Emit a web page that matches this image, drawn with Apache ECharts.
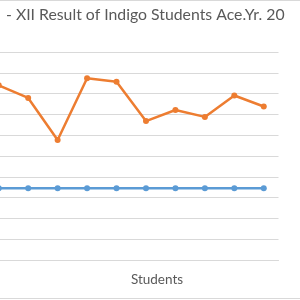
<!DOCTYPE html>
<html>
<head>
<meta charset="utf-8">
<script src="https://cdn.jsdelivr.net/npm/echarts@6/dist/echarts.min.js"></script>
<style>html,body{margin:0;padding:0;background:#fff;overflow:hidden}#wrap{position:relative;width:300px;height:300px;overflow:hidden}#c{position:absolute;left:-16px;top:0;width:316px;height:300px}</style>
</head>
<body>
<div id="wrap"><div id="c"></div></div>
<script>
var categories = ["1","2","3","4","5","6","7","8","9","10"];
var resultValues = [84.0, 77.9, 57.7, 87.4, 85.7, 66.8, 72.1, 68.8, 79.1, 73.8];
var passValues = [34.5, 34.5, 34.5, 34.5, 34.5, 34.5, 34.5, 34.5, 34.5, 34.5];
var titleText = "- XII Result of Indigo Students Ace.Yr. 20";
var axisName = "Students";

var chart = echarts.init(document.getElementById('c'), null, {renderer:'canvas'});
chart.setOption({
  animation: false,
  backgroundColor: '#ffffff',
  grid: {left: 0, right: 21.5, top: 52, bottom: 40, containLabel: false},
  xAxis: {
    type: 'category', data: categories, boundaryGap: true,
    axisLine: {lineStyle: {color: '#d9d9d9', width: 1}},
    axisTick: {show: false}, axisLabel: {show: false}
  },
  yAxis: {
    type: 'value', min: 0, max: 100, interval: 10,
    axisLine: {show: false}, axisTick: {show: false}, axisLabel: {show: false},
    splitLine: {lineStyle: {color: '#d9d9d9', width: 1}}
  },
  series: [
    {type: 'line', data: passValues, symbol: 'circle', symbolSize: 6,
     lineStyle: {color: '#5B9BD5', width: 2.5}, itemStyle: {color: '#5B9BD5'}},
    {type: 'line', data: resultValues, symbol: 'circle', symbolSize: 6,
     lineStyle: {color: '#ED7D31', width: 2.5}, itemStyle: {color: '#ED7D31'}}
  ],
  graphic: [
    {type: 'text', x: 22, y: 15, style: {text: titleText, fill: '#595959', font: '15.8px Lato', verticalAlign: 'middle'}},
    {type: 'text', x: 173, y: 280, style: {text: axisName, fill: '#595959', font: '13.5px Lato', align: 'center', verticalAlign: 'middle'}},
    {type: 'line', shape: {x1: 0, y1: 0.5, x2: 316, y2: 0.5}, style: {stroke: '#d9d9d9', lineWidth: 1}},
    {type: 'line', shape: {x1: 0, y1: 298.5, x2: 316, y2: 298.5}, style: {stroke: '#d9d9d9', lineWidth: 1}}
  ]
});
</script>
</body>
</html>
